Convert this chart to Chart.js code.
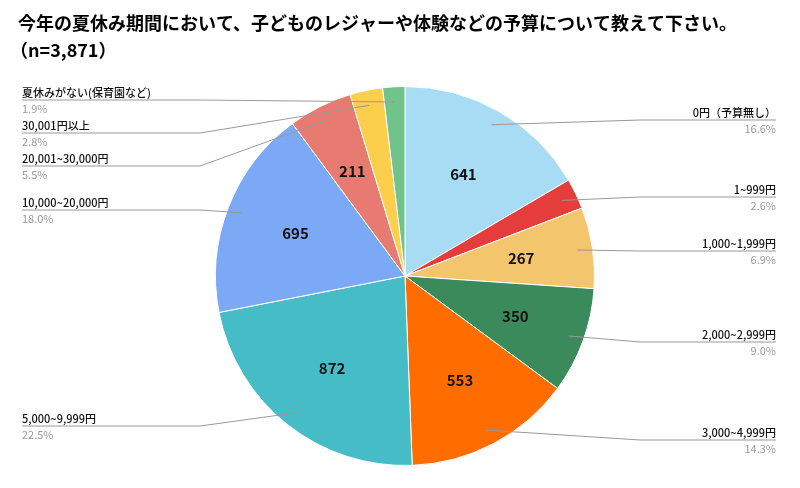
<!DOCTYPE html>
<html><head><meta charset="utf-8">
<script src="https://cdn.jsdelivr.net/npm/chart.js@4/dist/chart.umd.min.js"></script>
<style>body{margin:0;background:#fff}#wrap{width:800px;height:488px}</style>
</head><body><div id="wrap"><canvas id="myChart"></canvas></div>
<script>
const labels = ['0円（予算無し）','1~999円','1,000~1,999円','2,000~2,999円','3,000~4,999円','5,000~9,999円','10,000~20,000円','20,001~30,000円','30,001円以上','夏休みがない(保育園など)']
const values = [641, 101, 267, 350, 553, 872, 695, 211, 108, 73]
const percents = ['16.6%','2.6%','6.9%','9.0%','14.3%','22.5%','18.0%','5.5%','2.8%','1.9%']
const colors = ['#a8dcf4','#e53c3c','#f3c56c','#3b8a5c','#ff6d01','#46bdc6','#7ba9f6','#e77b72','#fbce4c','#70c38a']
// label line y for each slice (text sits above it)
const labelY = [120, 197, 251, 342, 440, 426, 210, 166, 133, 100]

const F = '"Noto Sans CJK JP", sans-serif'
const ctx = document.getElementById('myChart')

const labelPlugin = {
  id: 'labelPlugin',
  afterDraw(chart) {
    const c = chart.ctx
    c.save()
    c.fillStyle = '#000'
    c.font = 'bold 18px ' + F
    c.textBaseline = 'alphabetic'
    c.fillText('今年の夏休み期間において、子どものレジャーや体験などの予算について教えて下さい。', 18, 30)
    c.fillText('（n=3,871）', 10, 57)
    const arcs = chart.getDatasetMeta(0).data
    arcs.forEach((a, i) => {
      const mid = (a.startAngle + a.endAngle) / 2
      const right = Math.cos(mid) > 0
      const r = a.outerRadius
      if (values[i] > 150) {
        c.font = 'bold 15px ' + F
        c.fillStyle = '#111'
        c.textAlign = 'center'
        c.textBaseline = 'middle'
        c.fillText(values[i], a.x + Math.cos(mid) * r * 0.62, a.y + Math.sin(mid) * r * 0.62)
      }
      const px = a.x + Math.cos(mid) * r * 0.92, py = a.y + Math.sin(mid) * r * 0.92
      const y = labelY[i]
      c.strokeStyle = '#999'
      c.lineWidth = 1
      c.beginPath()
      c.moveTo(px, py)
      if (right) {
        const ex = Math.max(px + 15, 640)
        c.lineTo(ex, y); c.lineTo(776, y)
      } else {
        const ex = Math.min(px - 15, 200)
        c.lineTo(ex, y); c.lineTo(22, y)
      }
      c.stroke()
      c.textBaseline = 'alphabetic'
      c.textAlign = right ? 'right' : 'left'
      const tx = right ? 776 : 22
      c.font = '500 11px ' + F
      c.fillStyle = '#111'
      c.fillText(labels[i], tx, y - 3)
      c.font = '11px ' + F
      c.fillStyle = '#999'
      c.fillText(percents[i], tx, y + 13)
    })
    c.restore()
  }
}

new Chart(ctx, {
  type: 'pie',
  data: { labels, datasets: [{ data: values, backgroundColor: colors, borderColor: '#fff', borderWidth: 1 }] },
  options: {
    responsive: true,
    maintainAspectRatio: false,
    animation: false,
    layout: { padding: { top: 86, bottom: 22, left: 210, right: 200 } },
    plugins: { legend: { display: false }, tooltip: { enabled: false } }
  },
  plugins: [labelPlugin]
})
</script>
</body></html>
